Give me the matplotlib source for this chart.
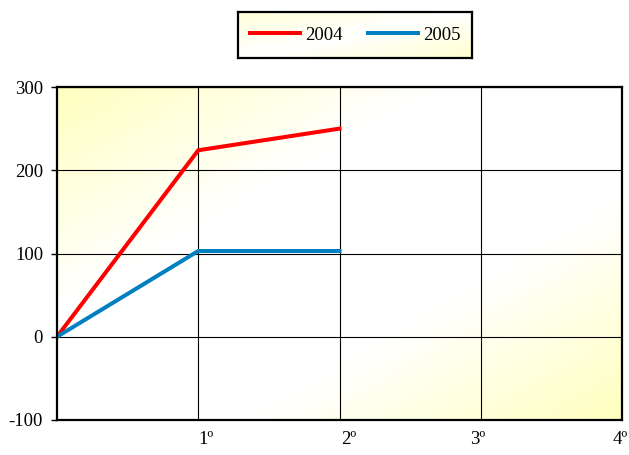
import numpy as np
import matplotlib
matplotlib.use("Agg")
import matplotlib.pyplot as plt
from matplotlib.colors import LinearSegmentedColormap
from matplotlib.transforms import ScaledTranslation

x_vals = [0, 1, 2]
s2004 = [0, 224, 250]
s2005 = [0, 103, 103]
xtick_pos = [1, 2, 3, 4]
xtick_labels = ["1º", "2º", "3º", "4º"]
yticks = [-100, 0, 100, 200, 300]
ytick_labels = ["-100", "0", "100", "200", "300"]

plt.rcParams['font.family'] = ['Liberation Serif', 'DejaVu Serif']
fig = plt.figure(figsize=(6.29, 4.55), dpi=100)
W, H = 629, 455
ax = fig.add_axes([57 / W, 1 - 420 / H, 565 / W, 333 / H])

cmap = LinearSegmentedColormap.from_list("g", ["#FFFFC0", "#FFFFFF", "#FFFFFF", "#FFFFC0"])
n = 200
xx, yy = np.meshgrid(np.linspace(0, 1, n), np.linspace(0, 1, n))
grad = (xx + yy) / 2.0
ax.imshow(grad, extent=[0, 4, -100, 300], origin="upper", cmap=cmap, aspect="auto", zorder=0)

ax.plot(x_vals, s2004, color="#FF0000", lw=2.9, zorder=3, label="2004")
ax.plot(x_vals, s2005, color="#0080C0", lw=2.9, zorder=3, label="2005")

ax.set_xlim(0, 4)
ax.set_ylim(-100, 300)
ax.set_yticks(yticks)
ax.set_yticklabels(ytick_labels, fontsize=13.5)
ax.set_xticks(xtick_pos)
ax.set_xticklabels(xtick_labels, fontsize=13.5)
ax.tick_params(axis='x', length=0, pad=8)
ax.tick_params(axis='y', length=4, width=1, pad=6)
offs = [8, 9, -3, -2]
for t, o in zip(ax.get_xticklabels(), offs):
    t.set_transform(t.get_transform() + ScaledTranslation(o / 100, 0, fig.dpi_scale_trans))
ax.grid(True, color="black", lw=0.8, zorder=1)
for s in ax.spines.values():
    s.set_linewidth(1.6)
    s.set_zorder(4)

# legend box with gradient
lax = fig.add_axes([238 / W, 1 - 58 / H, 234 / W, 46 / H])
lcmap = LinearSegmentedColormap.from_list("lg", ["#FFFFD8", "#FFFFFF", "#FFFFD0"])
lax.imshow(grad, extent=[0, 1, 0, 1], origin="upper", cmap=lcmap, aspect="auto")
lax.set_xticks([])
lax.set_yticks([])
for s in lax.spines.values():
    s.set_linewidth(1.6)
h, l = ax.get_legend_handles_labels()
lax.legend(h, l, loc="center", ncol=2, frameon=False, fontsize=13.5,
           handlelength=2.7, columnspacing=1.35, handletextpad=0.25)

fig.savefig("out.png", dpi=100)
